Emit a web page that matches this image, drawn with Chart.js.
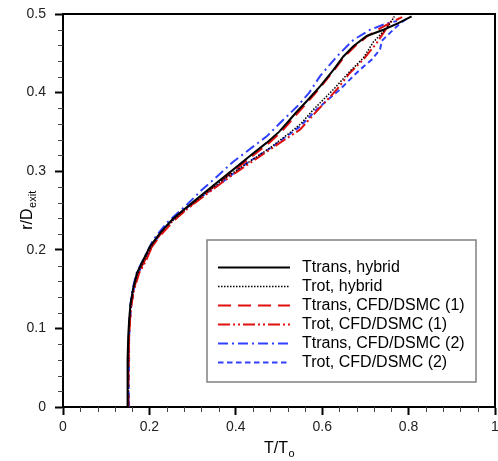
<!DOCTYPE html>
<html>
<head>
<meta charset="utf-8">
<script src="https://cdn.jsdelivr.net/npm/chart.js@4.4.1/dist/chart.umd.min.js"></script>
<style>
html,body{margin:0;padding:0;background:#fff;}
#wrap{width:498px;height:461px;position:relative;}
</style>
</head>
<body>
<div id="wrap"><canvas id="c" width="498" height="461"></canvas></div>
<script>
// ---- data ----
const seriesLabels = ["Ttrans, hybrid","Trot, hybrid","Ttrans, CFD/DSMC (1)","Trot, CFD/DSMC (1)","Ttrans, CFD/DSMC (2)","Trot, CFD/DSMC (2)"];

const ttransHybridR = [0,0.03,0.06,0.09,0.11,0.13,0.15,0.17,0.183,0.204,0.221,0.240,0.264,0.285,0.302,0.320,0.336,0.350,0.361,0.375,0.389,0.408,0.429,0.446,0.459,0.472,0.480,0.488,0.497];
const ttransHybridT = [0.149,0.149,0.150,0.151,0.153,0.156,0.162,0.171,0.182,0.201,0.224,0.255,0.308,0.355,0.394,0.434,0.471,0.500,0.518,0.540,0.564,0.595,0.626,0.649,0.672,0.703,0.742,0.775,0.807];

const trotHybridR = [0,0.03,0.06,0.09,0.11,0.13,0.15,0.17,0.185,0.206,0.226,0.248,0.270,0.290,0.306,0.330,0.349,0.360,0.378,0.404,0.427,0.444,0.464,0.478,0.488,0.497];
const trotHybridT = [0.150,0.150,0.151,0.152,0.154,0.157,0.163,0.173,0.186,0.206,0.232,0.275,0.325,0.372,0.415,0.480,0.525,0.550,0.579,0.626,0.664,0.695,0.718,0.742,0.757,0.767];

const ttransCfd1R = [0,0.03,0.06,0.09,0.11,0.13,0.15,0.17,0.183,0.204,0.221,0.240,0.264,0.285,0.302,0.320,0.336,0.350,0.361,0.375,0.389,0.408,0.429,0.446,0.459,0.472,0.482,0.490,0.496];
const ttransCfd1T = [0.151,0.151,0.152,0.153,0.155,0.158,0.164,0.174,0.186,0.206,0.230,0.262,0.313,0.360,0.399,0.440,0.477,0.505,0.523,0.545,0.568,0.598,0.628,0.652,0.676,0.705,0.735,0.762,0.785];

const trotCfd1R = [0,0.03,0.06,0.09,0.11,0.13,0.15,0.17,0.187,0.208,0.230,0.253,0.276,0.296,0.315,0.336,0.353,0.381,0.404,0.425,0.442,0.463,0.482,0.495];
const trotCfd1T = [0.151,0.151,0.152,0.153,0.155,0.158,0.165,0.176,0.193,0.209,0.240,0.290,0.345,0.394,0.445,0.502,0.549,0.595,0.634,0.664,0.695,0.726,0.749,0.765];

const ttransCfd2R = [0,0.03,0.06,0.09,0.11,0.13,0.15,0.17,0.191,0.213,0.234,0.257,0.276,0.294,0.312,0.330,0.344,0.360,0.383,0.400,0.421,0.446,0.467,0.480,0.488,0.491];
const ttransCfd2T = [0.152,0.151,0.152,0.153,0.154,0.156,0.161,0.170,0.189,0.209,0.240,0.286,0.321,0.358,0.394,0.437,0.471,0.500,0.543,0.570,0.595,0.634,0.672,0.711,0.749,0.773];

const trotCfd2R = [0,0.03,0.06,0.09,0.11,0.13,0.15,0.17,0.186,0.207,0.228,0.250,0.268,0.287,0.310,0.332,0.357,0.380,0.404,0.429,0.442,0.455,0.466,0.476,0.488,0.494];
const trotCfd2T = [0.153,0.152,0.153,0.153,0.155,0.158,0.164,0.174,0.188,0.208,0.235,0.278,0.322,0.371,0.425,0.487,0.549,0.590,0.641,0.687,0.715,0.734,0.738,0.757,0.780,0.796];

const xTickValues = [0,0.2,0.4,0.6,0.8,1];
const yTickValues = [0,0.1,0.2,0.3,0.4,0.5];

// ---- build ----
function pts(T, R){ return T.map((t,i)=>({x:t, y:R[i]})); }

const styles = [
  {color:'#000000', dash:[], width:2},
  {color:'#000000', dash:[1.5,1.5], width:1.5},
  {color:'#e01010', dash:[13,7], width:2},
  {color:'#e01010', dash:[12,3,2,3,2,3], width:2},
  {color:'#3040ff', dash:[10,4,2,4], width:2},
  {color:'#3040ff', dash:[5.5,3.5], width:2}
];
const seriesData = [
  pts(ttransHybridT, ttransHybridR),
  pts(trotHybridT, trotHybridR),
  pts(ttransCfd1T, ttransCfd1R),
  pts(trotCfd1T, trotCfd1R),
  pts(ttransCfd2T, ttransCfd2R),
  pts(trotCfd2T, trotCfd2R)
];
const datasets = seriesLabels.map((lab,i)=>({
  label: lab,
  data: seriesData[i],
  showLine: true,
  borderColor: styles[i].color,
  borderDash: styles[i].dash,
  borderWidth: styles[i].width,
  pointRadius: 0,
  fill: false,
  tension: 0
}));

const FONT = "'Liberation Sans', Arial, sans-serif";

const extras = {
  id: 'extras',
  afterDraw(chart){
    const ctx = chart.ctx;
    const a = chart.chartArea;
    const xs = chart.scales.x, ys = chart.scales.y;
    ctx.save();
    // top/right frame
    ctx.strokeStyle = '#000'; ctx.lineWidth = 2;
    ctx.beginPath();
    ctx.moveTo(a.left, a.top); ctx.lineTo(a.right, a.top); ctx.lineTo(a.right, a.bottom);
    ctx.stroke();
    // minor ticks
    ctx.strokeStyle = '#444'; ctx.lineWidth = 1;
    ctx.beginPath();
    for (let k=1;k<25;k++){
      if (k%5===0) continue;
      const px = Math.round(xs.getPixelForValue(k*0.04))+0.5;
      ctx.moveTo(px, a.bottom); ctx.lineTo(px, a.bottom+5);
      const py = Math.round(ys.getPixelForValue(k*0.02))+0.5;
      ctx.moveTo(a.left, py); ctx.lineTo(a.left-5, py);
    }
    ctx.stroke();
    // axis titles
    ctx.fillStyle = '#000';
    ctx.textBaseline = 'alphabetic';
    ctx.font = '16px ' + FONT;
    const m1 = ctx.measureText('T/T').width;
    ctx.font = '11px ' + FONT;
    const m2 = ctx.measureText('o').width;
    const cx = (a.left + a.right)/2;
    let x0 = cx - (m1+m2)/2;
    ctx.font = '16px ' + FONT; ctx.textAlign='left';
    ctx.fillText('T/T', x0, 453);
    ctx.font = '11px ' + FONT;
    ctx.fillText('o', x0+m1+0.5, 457);
    ctx.save();
    ctx.translate(32, (a.top+a.bottom)/2);
    ctx.rotate(-Math.PI/2);
    ctx.font = '16px ' + FONT;
    const n1 = ctx.measureText('r/D').width;
    ctx.font = '11px ' + FONT;
    const n2 = ctx.measureText('exit').width;
    let y0 = -(n1+n2)/2;
    ctx.font = '16px ' + FONT;
    ctx.fillText('r/D', y0, 0);
    ctx.font = '11px ' + FONT;
    ctx.fillText('exit', y0+n1+0.5, 4);
    ctx.restore();
    // legend box
    const L = 207, T = 240, R = 476, B = 382;
    ctx.fillStyle = '#fff';
    ctx.fillRect(L, T, R-L, B-T);
    ctx.strokeStyle = '#808080'; ctx.lineWidth = 1.5;
    ctx.strokeRect(L, T, R-L, B-T);
    chart.data.datasets.forEach((ds, i)=>{
      const yy = 267.5 + i*19;
      ctx.save();
      ctx.strokeStyle = ds.borderColor;
      ctx.lineWidth = ds.borderWidth;
      ctx.setLineDash(ds.borderDash || []);
      ctx.beginPath(); ctx.moveTo(218, yy); ctx.lineTo(290, yy); ctx.stroke();
      ctx.restore();
      ctx.fillStyle = '#000';
      ctx.font = '16px ' + FONT;
      ctx.textAlign = 'left'; ctx.textBaseline = 'middle';
      ctx.fillText(ds.label, 302, yy+0.5);
    });
    ctx.restore();
  }
};

new Chart(document.getElementById('c'), {
  type: 'scatter',
  data: { datasets },
  options: {
    responsive: false,
    animation: false,
    devicePixelRatio: 1,
    layout: { padding: { left: 0, right: 3, top: 14, bottom: 0 } },
    plugins: { legend: { display: false }, tooltip: { enabled: false } },
    scales: {
      x: {
        type: 'linear', min: 0, max: 1,
        afterBuildTicks: s => { s.ticks = xTickValues.map(v=>({value:v})); },
        afterFit: s => { s.height = 54; s.paddingLeft = 0; s.paddingRight = 0; },
        ticks: { font: { family: FONT, size: 14 }, color: '#222', padding: 4, maxRotation: 0,
                 callback: v => String(+v.toFixed(1)) },
        grid: { drawOnChartArea: false, drawTicks: true, tickLength: 8, tickWidth: 2, tickColor: '#000' },
        border: { display: true, color: '#000', width: 2 }
      },
      y: {
        type: 'linear', min: 0, max: 0.5,
        afterBuildTicks: s => { s.ticks = yTickValues.map(v=>({value:v})); },
        afterFit: s => { s.width = 63; s.paddingTop = 0; s.paddingBottom = 0; },
        ticks: { font: { family: FONT, size: 14 }, color: '#222', padding: 9,
                 callback: v => String(+v.toFixed(1)) },
        grid: { drawOnChartArea: false, drawTicks: true, tickLength: 8, tickWidth: 2, tickColor: '#000' },
        border: { display: true, color: '#000', width: 2 }
      }
    }
  },
  plugins: [extras]
});
</script>
</body>
</html>
